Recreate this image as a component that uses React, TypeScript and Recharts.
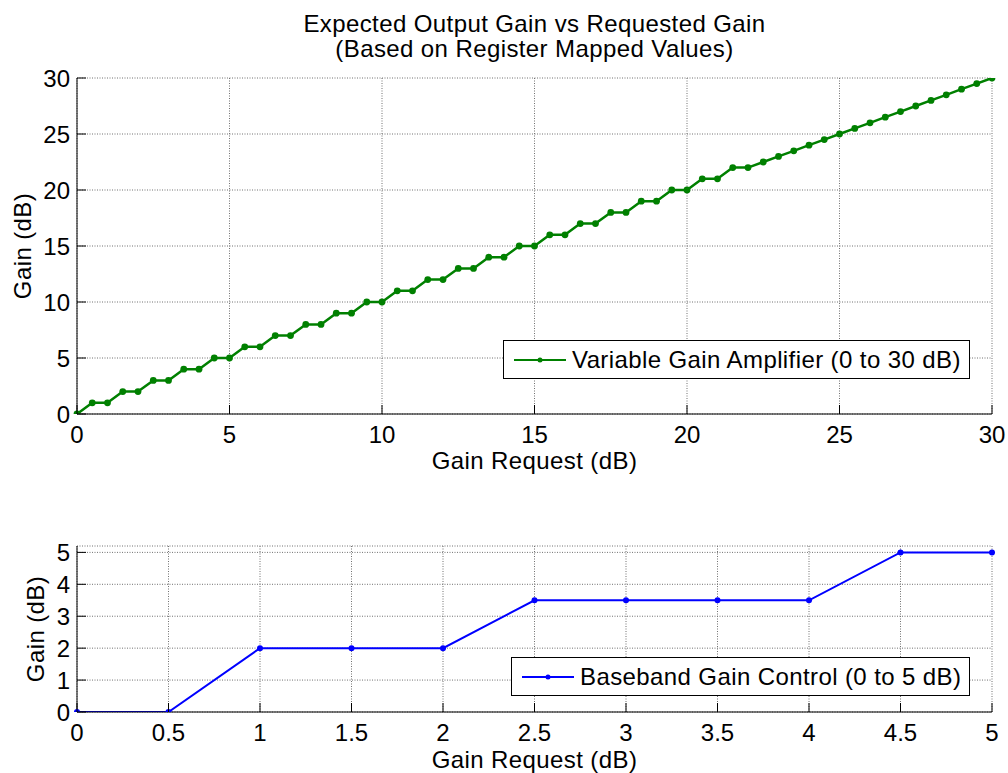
import { LineChart, Line, XAxis, YAxis, CartesianGrid, Legend } from 'recharts'

const FONT = '"Liberation Sans", Arial, Helvetica, sans-serif'
const FONT_SIZE = 24
const SPACING = 0.4
const GREEN = '#008000'
const BLUE = '#0000ff'
const GRID = '#707070'
const TICK_LEN = 9
const X_LABEL_GAP = 12
const Y_LABEL_GAP = 7

// Variable gain amplifier: requested gain vs register-mapped output gain
const vgaRequest = [
  0, 0.5, 1, 1.5, 2, 2.5, 3, 3.5, 4, 4.5, 5, 5.5, 6, 6.5, 7, 7.5, 8, 8.5, 9, 9.5, 10,
  10.5, 11, 11.5, 12, 12.5, 13, 13.5, 14, 14.5, 15, 15.5, 16, 16.5, 17, 17.5, 18, 18.5, 19, 19.5, 20,
  20.5, 21, 21.5, 22, 22.5, 23, 23.5, 24, 24.5, 25, 25.5, 26, 26.5, 27, 27.5, 28, 28.5, 29, 29.5, 30,
]
const vgaGain = [
  0, 1, 1, 2, 2, 3, 3, 4, 4, 5, 5, 6, 6, 7, 7, 8, 8, 9, 9, 10, 10,
  11, 11, 12, 12, 13, 13, 14, 14, 15, 15, 16, 16, 17, 17, 18, 18, 19, 19, 20, 20,
  21, 21, 22, 22, 22.5, 23, 23.5, 24, 24.5, 25, 25.5, 26, 26.5, 27, 27.5, 28, 28.5, 29, 29.5, 30,
]
const vgaTicks = [0, 5, 10, 15, 20, 25, 30]

// Baseband gain control
const bbcRequest = [0, 0.5, 1, 1.5, 2, 2.5, 3, 3.5, 4, 4.5, 5]
const bbcGain = [0, 0, 2, 2, 2, 3.5, 3.5, 3.5, 3.5, 5, 5]
const bbcXTicks = [0, 0.5, 1, 1.5, 2, 2.5, 3, 3.5, 4, 4.5, 5]
const bbcYTicks = [0, 1, 2, 3, 4, 5]

const vgaData = vgaRequest.map((x, i) => ({ x, gain: vgaGain[i] }))
const bbcData = bbcRequest.map((x, i) => ({ x, gain: bbcGain[i] }))

const textStyle = { fontFamily: FONT, fontSize: FONT_SIZE, fill: '#000' }
const labelStyle = { ...textStyle, letterSpacing: SPACING }

// matlab-style ticks: short marks pointing into the plot box
function BottomTick({ x, y, payload }: any) {
  const axisY = y - X_LABEL_GAP
  return (
    <g>
      <line x1={x} x2={x} y1={axisY} y2={axisY - TICK_LEN} stroke="#000" />
      <text x={x} y={y} dy="0.71em" textAnchor="middle" {...textStyle}>
        {payload.value}
      </text>
    </g>
  )
}

function LeftTick({ x, y, payload }: any) {
  const axisX = x + Y_LABEL_GAP
  return (
    <g>
      <line x1={axisX} x2={axisX + TICK_LEN} y1={y} y2={y} stroke="#000" />
      <text x={x} y={y} dy="0.355em" textAnchor="end" {...textStyle}>
        {payload.value}
      </text>
    </g>
  )
}

function TopTick({ x, y }: any) {
  return <line x1={x} x2={x} y1={y} y2={y + TICK_LEN} stroke="#000" />
}

function RightTick({ x, y }: any) {
  return <line x1={x} x2={x - TICK_LEN} y1={y} y2={y} stroke="#000" />
}

function SeriesKey({ color, text, width }: { color: string; text: string; width: number }) {
  return (
    <div
      style={{
        boxSizing: 'border-box',
        width,
        height: 39,
        border: '1px solid #000',
        background: '#fff',
        display: 'flex',
        alignItems: 'center',
        paddingLeft: 10,
        fontFamily: FONT,
        fontSize: FONT_SIZE,
        letterSpacing: SPACING,
        color: '#000',
        whiteSpace: 'nowrap',
      }}
    >
      <svg width={52} height={10} style={{ flex: 'none' }}>
        <line x1={0} x2={52} y1={5} y2={5} stroke={color} strokeWidth={2} />
        <circle cx={26} cy={5} r={2.5} fill={color} />
      </svg>
      <span style={{ marginLeft: 6 }}>{text}</span>
    </div>
  )
}

function GainPlot({
  data, width, height, margin, xTicks, yTicks, yMax, color, lineWidth, dotR,
  legendText, legendBox, yLabelOffset, xLabelOffset,
}: any) {
  const xMax = xTicks[xTicks.length - 1]
  return (
    <LineChart width={width} height={height} data={data} margin={margin}>
      <CartesianGrid stroke={GRID} strokeDasharray="1 1.5" />
      <XAxis
        dataKey="x"
        type="number"
        domain={[0, xMax]}
        ticks={xTicks}
        height={height - margin.top - margin.bottom - legendBox.plotH}
        interval={0}
        tickSize={0}
        tickMargin={X_LABEL_GAP}
        tick={<BottomTick />}
        axisLine={{ stroke: '#000' }}
        tickLine={false}
        label={{ value: 'Gain Request (dB)', position: 'insideBottom', offset: xLabelOffset, style: labelStyle }}
      />
      <XAxis
        xAxisId="top"
        orientation="top"
        dataKey="x"
        type="number"
        domain={[0, xMax]}
        allowDataOverflow
        ticks={xTicks}
        height={0}
        interval={0}
        tickSize={0}
        tickMargin={0}
        tick={<TopTick />}
        axisLine={{ stroke: '#000' }}
        tickLine={false}
      />
      <YAxis
        type="number"
        domain={[0, yMax]}
        allowDataOverflow
        ticks={yTicks}
        width={77}
        interval={0}
        tickSize={0}
        tickMargin={Y_LABEL_GAP}
        tick={<LeftTick />}
        axisLine={{ stroke: '#000' }}
        tickLine={false}
        label={{ value: 'Gain (dB)', angle: -90, position: 'insideLeft', offset: yLabelOffset, style: { ...labelStyle, textAnchor: 'middle' } }}
      />
      <YAxis
        yAxisId="right"
        orientation="right"
        dataKey="gain"
        type="number"
        domain={[0, yMax]}
        allowDataOverflow
        ticks={yTicks}
        width={0}
        interval={0}
        tickSize={0}
        tickMargin={0}
        tick={<RightTick />}
        axisLine={{ stroke: '#000' }}
        tickLine={false}
      />
      <Line
        type="linear"
        dataKey="gain"
        stroke={color}
        strokeWidth={lineWidth}
        dot={{ r: dotR, fill: color, stroke: color, strokeWidth: 0 }}
        activeDot={false}
        isAnimationActive={false}
      />
      <Legend
        layout="horizontal"
        verticalAlign="middle"
        align="center"
        wrapperStyle={{ left: legendBox.left, top: legendBox.top, width: legendBox.width, height: 39 }}
        content={() => <SeriesKey color={color} text={legendText} width={legendBox.width} />}
      />
    </LineChart>
  )
}

export default function App() {
  return (
    <div style={{ position: 'absolute', left: 0, top: 0, width: 1008, height: 773, background: '#fff' }}>
      <div
        style={{
          position: 'absolute',
          left: 77,
          width: 915,
          top: 11,
          textAlign: 'center',
          fontFamily: FONT,
          fontSize: FONT_SIZE,
          letterSpacing: SPACING,
          lineHeight: '25px',
          color: '#000',
        }}
      >
        <div>Expected Output Gain vs Requested Gain</div>
        <div>(Based on Register Mapped Values)</div>
      </div>

      <div style={{ position: 'absolute', left: 0, top: 0 }}>
        <GainPlot
          data={vgaData}
          width={1008}
          height={480}
          margin={{ top: 78, right: 16, left: 0, bottom: 0 }}
          xTicks={vgaTicks}
          yTicks={vgaTicks}
          yMax={30}
          color={GREEN}
          lineWidth={2.5}
          dotR={3.4}
          legendText="Variable Gain Amplifier (0 to 30 dB)"
          legendBox={{ left: 503, top: 340, width: 467, plotH: 336 }}
          yLabelOffset={22}
          xLabelOffset={11}
        />
      </div>

      <div style={{ position: 'absolute', left: 0, top: 480 }}>
        <GainPlot
          data={bbcData}
          width={1008}
          height={293}
          margin={{ top: 66, right: 16, left: 0, bottom: 0 }}
          xTicks={bbcXTicks}
          yTicks={bbcYTicks}
          yMax={5.2}
          color={BLUE}
          lineWidth={2}
          dotR={3}
          legendText="Baseband Gain Control (0 to 5 dB)"
          legendBox={{ left: 511, top: 177, width: 459, plotH: 166 }}
          yLabelOffset={35}
          xLabelOffset={5}
        />
      </div>
    </div>
  )
}
